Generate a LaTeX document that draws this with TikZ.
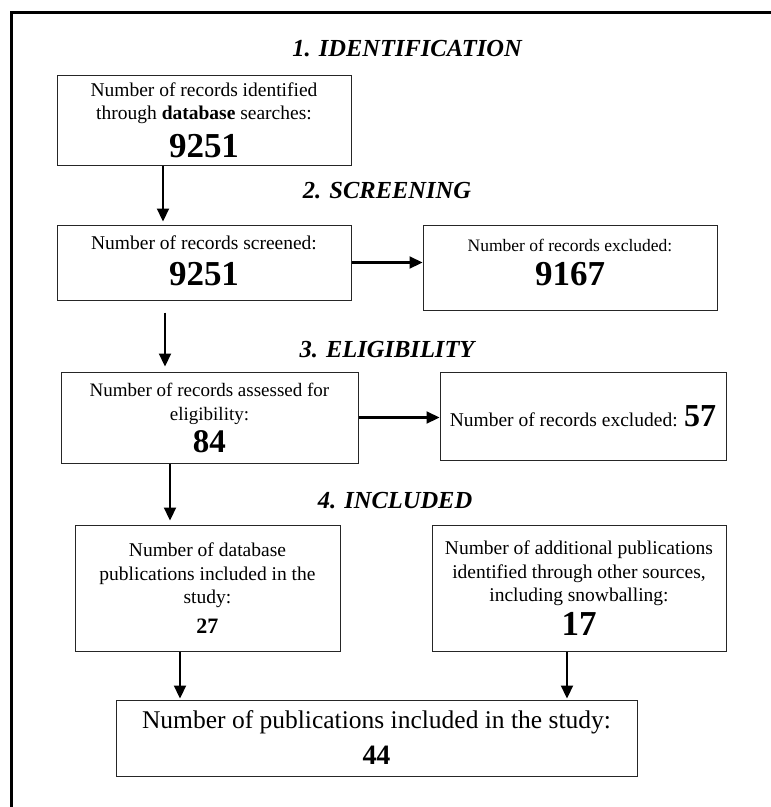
\documentclass[tikz,border=0pt]{standalone}
\usepackage{fontspec}
\setmainfont{Liberation Serif}
\usetikzlibrary{arrows.meta}

\def\lw{1pt}
\newcommand{\bignum}[2][35]{{\fontsize{#1}{#1}\selectfont\bfseries #2}}
\newcommand{\dropby}[1]{\rule[-#1]{0pt}{#1}}

\begin{document}
\begin{tikzpicture}[x=1pt, y=-1pt,
    box/.style={rectangle, draw=black!85, line width=\lw, align=center, inner sep=0pt, font=\fontsize{19.5}{23.5}\selectfont},
    head/.style={anchor=base, inner sep=0pt, font=\fontsize{24.5}{24.5}\selectfont\bfseries\itshape},
    arr/.style={line width=2.2pt, -{Triangle[length=13pt,width=12pt]}}]

	\useasboundingbox (0,0) rectangle (771,807);
	\draw[line width=3pt] (11,807) -- (11,12) -- (771,12);

	\node[head] (t1) at (407,56) {1. IDENTIFICATION};
	\node[head] (t2) at (387,198) {2. SCREENING};
	\node[head] (t3) at (387,357) {3. ELIGIBILITY};
	\node[head] (t4) at (395,508) {4. INCLUDED};

	\node[box, minimum width=294pt, minimum height=90pt] (b1) at (204,120)
		{Number of records identified\\ through \textbf{database} searches:\\[9pt] \bignum{9251}};
	\node[box, minimum width=294pt, minimum height=75pt] (b2) at (204,262.5)
		{Number of records screened:\\[13pt] \bignum{9251}\dropby{4pt}};
	\node[box, minimum width=294pt, minimum height=85pt, font=\fontsize{17.5}{22}\selectfont] (b3) at (570,267.5)
		{Number of records excluded:\\[9pt] \bignum{9167}\dropby{10pt}};
	\node[box, minimum width=297pt, minimum height=91pt, font=\fontsize{19}{24}\selectfont] (b4) at (209.5,417.5)
		{Number of records assessed for\\ eligibility:\\[5pt] \bignum[33]{84}};
	\node[box, minimum width=286pt, minimum height=88pt] (b5) at (583,416)
		{Number of records excluded: \bignum[32]{57}};
	\node[box, minimum width=265pt, minimum height=126pt] (b6) at (207.5,588)
		{Number of database\\ publications included in the\\ study:\\[6pt] \bignum[22]{27}};
	\node[box, minimum width=294pt, minimum height=126pt] (b7) at (579,588)
		{Number of additional publications\\ identified through other sources,\\ including snowballing:\\[5pt] \bignum{17}};
	\node[box, minimum width=521pt, minimum height=76pt, font=\fontsize{25.5}{30}\selectfont] (b8) at (376.5,738)
		{Number of publications included in the study:\\[6pt] \bignum[28]{44}};

	\coordinate (c1) at (163,0);
	\coordinate (c2) at (165,0);
	\coordinate (c3) at (170,0);
	\coordinate (c4) at (180,0);
	\coordinate (c5) at (567,0);

	\draw[arr, shorten >=3pt] (b1.south -| c1) -- (b2.north -| c1);
	\draw[arr] (b2.east) -- (b3.west |- b2.east);
	\draw[arr, shorten <=12pt, shorten >=5pt] (b2.south -| c2) -- (b4.north -| c2);
	\draw[arr] (b4.east) -- (b5.west |- b4.east);
	\draw[arr, shorten >=4pt] (b4.south -| c3) -- (b6.north -| c3);
	\draw[arr, shorten >=1pt] (b6.south -| c4) -- (b8.north -| c4);
	\draw[arr, shorten >=1pt] (b7.south -| c5) -- (b8.north -| c5);

\end{tikzpicture}
\end{document}
